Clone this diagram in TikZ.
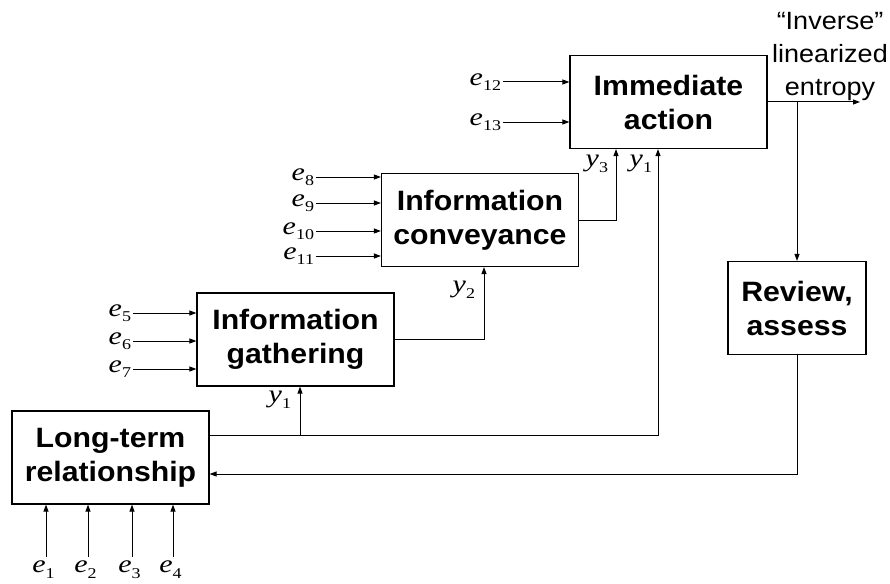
\documentclass[tikz,border=0pt]{standalone}
\usepackage{fontspec}
\setmainfont{Liberation Sans}
\newfontfamily\boxfont[FakeStretch=1.08]{Liberation Sans}
\newfontfamily\symfont[FakeStretch=1.2]{Liberation Serif}
\usetikzlibrary{arrows.meta}
\newcommand{\sym}[2]{{\fontsize{25}{25}\selectfont\itshape #1}\raisebox{-5.5pt}{\fontsize{15}{15}\selectfont #2}}

\begin{document}
\begin{tikzpicture}[
    x=1pt, y=-1pt,
    >={Triangle[length=7pt,width=5pt]},
    line width=1pt,
    box/.style={rectangle, draw, line width=1.2pt, minimum width=197pt, minimum height=93pt,
        align=center, font=\boxfont\bfseries\fontsize{28}{34}\selectfont},
    lbl/.style={inner sep=1.5pt, font=\symfont}
]
    \useasboundingbox (0,0) rectangle (890,583);

    % Nodes
    \node[box] (act) at (668.5,102) {Immediate\\action};
    \node[box] (conv) at (480,220) {Information\\conveyance};
    \node[box] (gath) at (295.5,339.5) {Information\\gathering};
    \node[box] (ltr) at (110.5,457.5) {Long-term\\relationship};
    \node[box, minimum width=138pt] (rev) at (797,308) {Review,\\assess};
    \node[align=center, font=\boxfont\fontsize{25}{33}\selectfont] (inv) at (830,56)
        {“Inverse”\\linearized\\entropy};

    % Inputs
    \foreach \n/\y in {12/82, 13/122} {
        \node[lbl, anchor=east] (e\n) at (503,\y) {\sym{e}{\n}};
        \draw[->] (e\n.east) -- (e\n.east -| act.west);
    }
    \foreach \n/\y in {8/177, 9/203, 10/231, 11/256} {
        \node[lbl, anchor=east] (e\n) at (316,\y) {\sym{e}{\n}};
        \draw[->] (e\n.east) -- (e\n.east -| conv.west);
    }
    \foreach \n/\y in {5/313, 6/341, 7/369} {
        \node[lbl, anchor=east] (e\n) at (133,\y) {\sym{e}{\n}};
        \draw[->] (e\n.east) -- (e\n.east -| gath.west);
    }
    \foreach \n/\x in {1/46, 2/88, 3/132, 4/173} {
        \coordinate (in\n) at (\x,557);
        \node[lbl, anchor=north] (e\n) at ([xshift=-2.5pt,yshift=-2pt]in\n) {\sym{e}{\n}};
        \draw[->] (in\n) -- (in\n |- ltr.south);
    }

    % Outputs
    \node[lbl, anchor=east] (y3) at (610,164) {\sym{y}{3}};
    \node[lbl, anchor=east] (y1a) at (654,164) {\sym{y}{1}};
    \node[lbl, anchor=east] (y2) at (477,290) {\sym{y}{2}};
    \node[lbl, anchor=east] (y1b) at (293,400) {\sym{y}{1}};

    \coordinate (ltrout) at ([yshift=22pt]ltr.east);
    \coordinate (ltrin) at ([yshift=-16.5pt]ltr.east);
    \coordinate (gathin) at ([xshift=4.5pt]gath.south);
    \coordinate (convin) at ([xshift=4pt]conv.south);
    \coordinate (actin3) at ([xshift=-52.5pt]act.south);
    \coordinate (actin1) at ([xshift=-10.5pt]act.south);
    \coordinate (out) at (860,102);

    % Arrows
    \draw[->] (gath.east) -| (convin);
    \draw[->] (conv.east) -| (actin3);
    \draw[->] (ltrout) -| (actin1);
    \draw[->] (gathin |- ltrout) -- (gathin);
    \draw[->] (act.east) -- (out);
    \draw[->] (rev.north |- act.east) -- (rev.north);
    \draw[->] (rev.south) |- (ltrin);
\end{tikzpicture}
\end{document}
